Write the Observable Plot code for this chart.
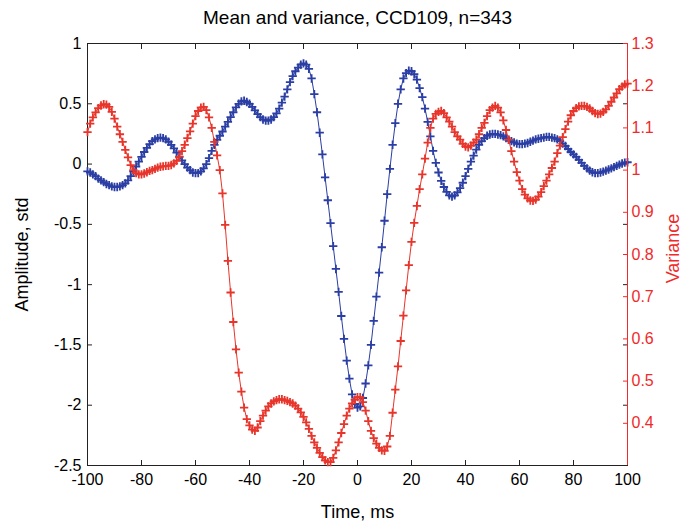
<!DOCTYPE html>
<html><head><meta charset="utf-8">
<script src="https://cdn.jsdelivr.net/npm/d3@7"></script>
<script src="https://cdn.jsdelivr.net/npm/@observablehq/plot@0.6"></script>
<style>
body{margin:0;background:#fff;}
svg{font-family:"Liberation Sans",Arial,Helvetica,sans-serif;}
</style>
</head><body><div id="chart"></div>
<script>
const time = d3.range(-100, 101);
const amplitude = [
-0.06,-0.07,-0.085,-0.10,-0.12,-0.135,-0.15,-0.165,-0.175,-0.185,
-0.19,-0.19,-0.185,-0.175,-0.16,-0.135,-0.10,-0.06,-0.02,0.02,
0.06,0.10,0.135,0.165,0.19,0.205,0.215,0.22,0.215,0.205,
0.185,0.16,0.13,0.095,0.06,0.03,0.0,-0.03,-0.05,-0.07,
-0.075,-0.075,-0.06,-0.035,0.0,0.05,0.11,0.16,0.20,0.235,
0.27,0.31,0.35,0.39,0.43,0.47,0.50,0.52,0.525,0.515,
0.50,0.475,0.445,0.415,0.39,0.37,0.36,0.36,0.37,0.39,
0.42,0.46,0.51,0.56,0.62,0.68,0.73,0.77,0.80,0.825,
0.835,0.825,0.79,0.71,0.58,0.43,0.26,0.08,-0.11,-0.30,
-0.49,-0.68,-0.87,-1.06,-1.26,-1.45,-1.63,-1.78,-1.91,-1.99,
-2.02,-2.01,-1.94,-1.82,-1.67,-1.50,-1.30,-1.10,-0.90,-0.69,
-0.47,-0.25,-0.04,0.16,0.34,0.50,0.62,0.71,0.755,0.775,
0.77,0.745,0.70,0.63,0.555,0.46,0.35,0.23,0.11,0.01,
-0.07,-0.14,-0.19,-0.23,-0.26,-0.27,-0.26,-0.235,-0.20,-0.155,
-0.10,-0.04,0.02,0.07,0.12,0.16,0.19,0.215,0.235,0.245,
0.25,0.25,0.245,0.24,0.23,0.215,0.20,0.19,0.18,0.17,
0.165,0.165,0.17,0.175,0.185,0.195,0.205,0.21,0.215,0.22,
0.225,0.225,0.22,0.215,0.205,0.19,0.17,0.15,0.125,0.10,
0.08,0.06,0.035,0.01,-0.015,-0.035,-0.055,-0.068,-0.075,-0.075,
-0.07,-0.063,-0.055,-0.045,-0.035,-0.025,-0.015,-0.005,0.005,0.012,
0.015];
const variance = [
1.09,1.11,1.125,1.137,1.147,1.153,1.156,1.155,1.15,1.138,
1.122,1.103,1.085,1.067,1.048,1.03,1.012,1.0,0.993,0.99,
0.99,0.992,0.995,0.998,1.0,1.003,1.006,1.008,1.009,1.01,
1.01,1.012,1.016,1.022,1.032,1.045,1.06,1.076,1.092,1.11,
1.128,1.14,1.148,1.15,1.142,1.125,1.1,1.067,1.035,1.0,
0.945,0.87,0.785,0.71,0.64,0.575,0.52,0.475,0.437,0.41,
0.395,0.385,0.382,0.39,0.405,0.418,0.43,0.44,0.447,0.452,
0.455,0.457,0.457,0.455,0.453,0.45,0.447,0.442,0.435,0.426,
0.415,0.402,0.387,0.37,0.355,0.342,0.33,0.32,0.312,0.308,
0.308,0.318,0.336,0.355,0.377,0.398,0.418,0.435,0.447,0.456,
0.462,0.462,0.45,0.43,0.405,0.382,0.365,0.352,0.342,0.336,
0.335,0.345,0.37,0.425,0.48,0.535,0.595,0.655,0.715,0.775,
0.83,0.875,0.915,0.955,0.99,1.027,1.065,1.1,1.122,1.133,
1.138,1.14,1.135,1.125,1.115,1.103,1.09,1.08,1.072,1.062,
1.056,1.054,1.058,1.065,1.072,1.085,1.1,1.112,1.128,1.142,
1.148,1.152,1.148,1.137,1.118,1.095,1.072,1.045,1.02,0.995,
0.975,0.955,0.942,0.933,0.928,0.927,0.93,0.937,0.948,0.962,
0.975,0.99,1.005,1.02,1.04,1.058,1.078,1.097,1.115,1.13,
1.14,1.147,1.151,1.152,1.152,1.15,1.146,1.14,1.135,1.133,
1.134,1.138,1.144,1.152,1.162,1.172,1.182,1.192,1.198,1.203,
1.205];
const xTicks = [-100,-80,-60,-40,-20,0,20,40,60,80,100];
const leftTicks = [-2.5,-2,-1.5,-1,-0.5,0,0.5,1];
const rightTicks = [0.4,0.5,0.6,0.7,0.8,0.9,1,1.1,1.2,1.3];
const xDomain = [-100, 100];
const leftDomain = [-2.5, 1];
const rightDomain = [0.3, 1.3];
const title = "Mean and variance, CCD109, n=343";
const xLabel = "Time, ms";
const leftLabel = "Amplitude, std";
const rightLabel = "Variance";

const BLUE = "#2b3ea4", RED = "#e8352b", AXRED = "#f02a2a";
const toLeft = v => leftDomain[0] + (v - rightDomain[0]) * (leftDomain[1] - leftDomain[0]) / (rightDomain[1] - rightDomain[0]);
const fromLeft = y => rightDomain[0] + (y - leftDomain[0]) * (rightDomain[1] - rightDomain[0]) / (leftDomain[1] - leftDomain[0]);

const ampData = time.map((t, i) => ({t, v: amplitude[i]}));
const varData = time.map((t, i) => ({t, v: toLeft(variance[i])}));
const fmt = d => String(+(+d).toFixed(2));
const noLabel = () => "";

const chart = Plot.plot({
  width: 685, height: 526,
  marginLeft: 87, marginRight: 58, marginTop: 43, marginBottom: 61,
  style: {fontSize: "16px", fontFamily: "'Liberation Sans', Arial, sans-serif", background: "#fff", color: "#000"},
  x: {domain: xDomain, axis: null},
  y: {domain: leftDomain, axis: null},
  marks: [
    Plot.frame({stroke: "#222", strokeWidth: 1}),
    Plot.axisX({anchor: "bottom", ticks: xTicks, tickSize: -5, tickFormat: noLabel, label: null, stroke: "#222"}),
    Plot.axisX({anchor: "bottom", ticks: xTicks, tickSize: 0, tickPadding: 8, tickFormat: fmt, label: null, fill: "#000"}),
    Plot.axisX({anchor: "top", ticks: xTicks, tickSize: -5, tickFormat: noLabel, label: null, stroke: "#222"}),
    Plot.axisY({anchor: "left", ticks: leftTicks, tickSize: -5, tickFormat: noLabel, label: null, stroke: "#222"}),
    Plot.axisY({anchor: "left", ticks: leftTicks, tickSize: 0, tickPadding: 6, tickFormat: fmt, label: null, fill: "#000"}),
    Plot.axisY({anchor: "right", ticks: leftTicks, tickSize: -5, tickFormat: noLabel, label: null, stroke: "#222"}),
    Plot.line(ampData, {x: "t", y: "v", stroke: BLUE, strokeWidth: 1}),
    Plot.dot(ampData, {x: "t", y: "v", symbol: "plus", r: 2.8, stroke: BLUE, strokeWidth: 1.8}),
    Plot.line(varData, {x: "t", y: "v", stroke: RED, strokeWidth: 1}),
    Plot.dot(varData, {x: "t", y: "v", symbol: "plus", r: 2.8, stroke: RED, strokeWidth: 1.8}),
    Plot.ruleX([xDomain[1]], {stroke: AXRED, strokeWidth: 1}),
    Plot.axisY({anchor: "right", ticks: rightTicks.map(toLeft), tickSize: -5, tickFormat: noLabel, label: null, stroke: AXRED}),
    Plot.axisY({anchor: "right", ticks: rightTicks.map(toLeft), tickSize: 0, tickPadding: 4, tickFormat: d => fmt(fromLeft(d)), label: null, fill: AXRED}),
    Plot.text([title], {frameAnchor: "top", dy: -26, fontSize: 19, textAnchor: "middle", lineAnchor: "middle", fill: "#000"}),
    Plot.text([xLabel], {frameAnchor: "bottom", dy: 47, fontSize: 18, textAnchor: "middle", lineAnchor: "middle", fill: "#000"}),
    Plot.text([leftLabel], {frameAnchor: "left", dx: -65, rotate: -90, fontSize: 18, textAnchor: "middle", lineAnchor: "middle", fill: "#000"}),
    Plot.text([rightLabel], {frameAnchor: "right", dx: 46, dy: -6, rotate: -90, fontSize: 18, textAnchor: "middle", lineAnchor: "middle", fill: AXRED})
  ]
});
document.getElementById("chart").appendChild(chart);
</script>
</body></html>
